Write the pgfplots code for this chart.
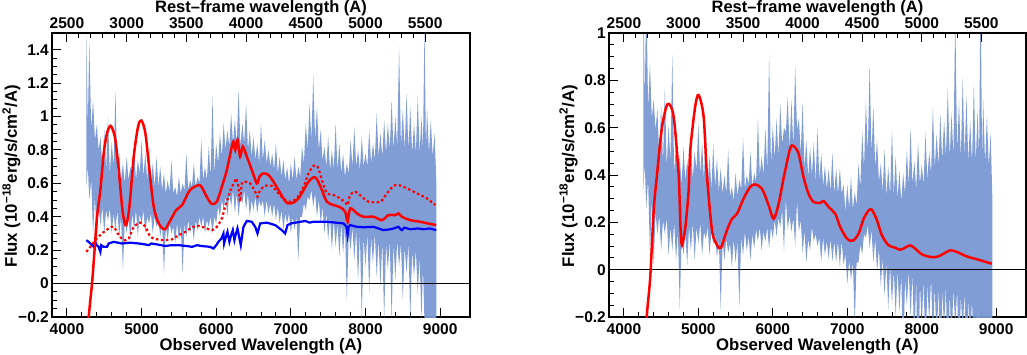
\documentclass[border=0pt]{standalone}
\usepackage{fontspec}
\setmainfont{Liberation Sans}
\usepackage{pgfplots}
\pgfplotsset{compat=1.18}
\usepgfplotslibrary{fillbetween}
\usepackage{pgfplotstable}

\definecolor{spec}{RGB}{122,152,212}

% observed spectrum: lam, upper and lower edge of the noisy flux, host continuum at lam
\pgfplotstableread{
lam hi lo h
4260 1.52 0.58 0.26
4280 0.95 0.70 0.25
4300 1.45 0.50 0.24
4325 0.92 0.62 0.24
4350 1.10 0.30 0.23
4375 0.86 0.52 0.22
4400 0.95 0.25 0.23
4425 0.80 0.45 0.21
4450 0.88 0.35 0.20
4475 0.70 0.46 0.23
4500 0.92 0.30 0.22
4525 0.68 0.44 0.23
4550 1.00 0.38 0.23
4575 0.66 0.45 0.23
4600 0.85 0.30 0.24
4625 0.70 0.42 0.24
4650 1.15 0.32 0.24
4675 0.64 0.44 0.24
4700 0.78 0.28 0.24
4725 0.62 0.40 0.24
4750 0.72 0.08 0.24
4775 0.60 0.38 0.24
4800 0.76 0.30 0.24
4825 0.62 0.40 0.24
4850 0.70 0.26 0.24
4875 0.64 0.42 0.24
4900 0.80 0.32 0.24
4925 0.62 0.44 0.24
4950 0.74 0.28 0.24
4975 0.66 0.42 0.24
5000 0.86 0.35 0.24
5025 0.64 0.44 0.24
5050 0.78 0.30 0.24
5075 0.62 0.40 0.24
5100 0.82 0.36 0.23
5125 0.60 0.42 0.24
5150 0.72 0.30 0.24
5175 0.58 0.40 0.24
5200 0.76 0.34 0.23
5225 0.58 0.38 0.23
5250 0.70 0.28 0.23
5275 0.56 0.36 0.23
5300 0.66 0.06 0.23
5325 0.54 0.34 0.22
5350 0.62 0.26 0.22
5375 0.55 0.36 0.23
5400 0.74 0.30 0.23
5425 0.54 0.34 0.23
5450 0.58 0.24 0.23
5475 0.52 0.36 0.23
5500 0.64 0.26 0.23
5525 0.54 0.35 0.23
5550 0.60 0.06 0.22
5575 0.56 0.36 0.22
5600 0.78 0.28 0.22
5625 0.56 0.38 0.22
5650 0.62 0.30 0.22
5675 0.58 0.36 0.22
5700 0.72 0.26 0.22
5725 0.58 0.38 0.23
5750 0.64 0.32 0.23
5775 0.60 0.40 0.23
5800 0.86 0.34 0.22
5825 0.62 0.40 0.22
5850 0.70 0.30 0.22
5875 0.62 0.38 0.22
5900 0.82 0.34 0.22
5925 0.64 0.40 0.22
5950 1.12 0.30 0.21
5975 0.66 0.40 0.22
6000 0.84 0.36 0.23
6025 0.72 0.46 0.25
6050 0.90 0.40 0.26
6075 0.76 0.50 0.28
6100 0.96 0.44 0.26
6125 0.80 0.52 0.27
6150 0.92 0.40 0.32
6175 0.82 0.54 0.24
6200 1.02 0.46 0.29
6225 0.84 0.56 0.33
6250 0.98 0.42 0.26
6275 0.84 0.54 0.32
6300 1.16 0.40 0.30
6325 0.82 0.52 0.23
6350 0.96 0.48 0.32
6375 0.84 0.56 0.35
6400 1.08 0.44 0.37
6425 0.80 0.54 0.375
6450 0.92 0.40 0.37
6475 0.76 0.50 0.37
6500 0.88 0.44 0.36
6525 0.74 0.52 0.34
6550 0.84 0.42 0.30
6575 0.72 0.50 0.35
6600 0.96 0.46 0.36
6625 0.74 0.50 0.365
6650 0.86 0.40 0.365
6675 0.72 0.50 0.365
6700 0.80 0.42 0.36
6725 0.70 0.48 0.36
6750 0.78 0.40 0.355
6775 0.68 0.48 0.35
6800 0.84 0.38 0.345
6825 0.66 0.46 0.34
6850 0.76 0.36 0.33
6875 0.64 0.44 0.32
6900 0.74 0.32 0.31
6925 0.62 0.42 0.30
6950 0.70 0.36 0.34
6975 0.60 0.42 0.355
7000 0.72 0.30 0.36
7025 0.62 0.40 0.36
7050 0.76 0.32 0.365
7075 0.62 0.40 0.365
7100 0.70 0.14 0.37
7125 0.64 0.40 0.37
7150 0.82 0.40 0.37
7175 0.72 0.48 0.375
7200 0.96 0.44 0.375
7225 0.80 0.52 0.37
7250 1.08 0.50 0.365
7275 0.86 0.56 0.37
7300 1.24 0.46 0.37
7325 0.86 0.54 0.37
7350 1.06 0.40 0.37
7375 0.80 0.50 0.37
7400 0.92 0.36 0.37
7425 0.74 0.46 0.37
7450 0.82 0.30 0.37
7475 0.70 0.42 0.37
7500 0.88 0.26 0.37
7525 0.68 0.40 0.37
7550 0.80 0.20 0.365
7575 0.68 0.38 0.365
7600 0.96 0.22 0.365
7625 0.68 0.36 0.365
7650 0.84 0.16 0.36
7675 0.66 0.36 0.36
7700 0.78 0.18 0.36
7725 0.64 0.34 0.355
7750 0.72 -0.10 0.31
7775 0.66 0.30 0.34
7800 0.86 0.20 0.35
7825 0.70 0.34 0.345
7850 0.94 0.14 0.34
7875 0.70 0.32 0.34
7900 0.80 0.02 0.34
7925 0.68 0.30 0.34
7950 0.88 -0.22 0.34
7975 0.70 0.28 0.337
8000 0.78 0.10 0.337
8025 0.70 0.30 0.34
8050 0.92 -0.05 0.34
8075 0.72 0.28 0.34
8100 0.84 0.12 0.34
8125 0.74 0.30 0.335
8150 1.02 0.04 0.33
8175 0.76 0.26 0.33
8200 0.90 -0.02 0.325
8225 0.76 0.26 0.32
8250 0.98 -0.22 0.32
8275 0.78 0.24 0.32
8300 0.96 0.08 0.325
8325 0.80 0.26 0.325
8350 1.10 -0.22 0.33
8375 0.80 0.24 0.33
8400 1.00 0.02 0.335
8425 0.82 0.26 0.34
8450 1.42 0.10 0.335
8475 0.82 0.24 0.325
8500 1.04 -0.10 0.325
8525 0.80 0.22 0.33
8550 1.14 0.06 0.33
8575 0.80 0.24 0.325
8600 1.06 -0.22 0.325
8625 0.78 0.20 0.325
8650 0.96 0.04 0.33
8675 0.78 0.20 0.33
8700 1.12 -0.06 0.33
8725 0.78 0.16 0.33
8750 1.00 -0.22 0.325
8770 0.80 0.10 0.325
8790 1.55 -0.22 0.325
8810 0.80 -0.22 0.325
8825 1.05 -0.22 0.33
8850 0.78 -0.22 0.33
8875 0.98 -0.22 0.33
8900 0.76 -0.22 0.325
8925 0.90 -0.22 0.32
8950 0.60 -0.22 0.32
}\spectrum

\pgfplotsset{
  rootframe/.style={
    scale only axis, width=418pt, height=284pt,
    xmin=3800, xmax=9400,
    axis line style={line width=1.1pt},
    tick align=inside,
    major tick length=9pt, minor tick length=5pt,
    tick style={black, line width=0.9pt},
    xtick={4000,5000,6000,7000,8000,9000},
    xticklabels={4000,5000,6000,7000,8000,9000},
    minor x tick num=4, minor y tick num=3,
    xtick pos=bottom, ytick pos=left,
    xticklabel style={anchor=base, inner sep=0pt, yshift=-17.5pt},
    yticklabel style={anchor=east, inner sep=0pt, xshift=-3pt},
    tick label style={font=\fontsize{15.5}{18}\selectfont\bfseries},
  },
  restframe/.style={
    scale only axis, width=418pt, height=284pt,
    xmin=2375, xmax=5875, ymin=0, ymax=1,
    axis x line*=top, axis y line=none,
    axis line style={line width=1.1pt, -},
    tick align=inside,
    major tick length=9pt, minor tick length=5pt,
    tick style={black, line width=0.9pt},
    xtick={2500,3000,3500,4000,4500,5000,5500},
    xticklabels={2500,3000,3500,4000,4500,5000,5500},
    minor x tick num=4,
    xticklabel style={anchor=base, inner sep=0pt, yshift=4.5pt},
    tick label style={font=\fontsize{15.5}{18}\selectfont\bfseries},
  },
}

\begin{document}
\begin{tikzpicture}
\tikzset{xlab/.style={font=\fontsize{16.7}{19}\selectfont\bfseries},
         tlab/.style={font=\fontsize{16.5}{19}\selectfont\bfseries},
         ylab/.style={font=\fontsize{16.8}{19}\selectfont\bfseries}}

% ---------------- left panel ----------------
\begin{axis}[rootframe, at={(0pt,0pt)},
    ymin=-0.2, ymax=1.5,
    ytick={-0.2,0,0.2,0.4,0.6,0.8,1,1.2,1.4},
    yticklabels={−0.2,0,0.2,0.4,0.6,0.8,1,1.2,1.4}]
\addplot[name path=hiA, draw=none] table[x=lam, y=hi]{\spectrum};
\addplot[name path=loA, draw=none] table[x=lam, y=lo]{\spectrum};
\addplot[spec, fill opacity=0.95] fill between[of=hiA and loA];
\addplot[black, line width=0.8pt] coordinates {(3800,0) (9400,0)};
\addplot[blue, line width=2.2pt] coordinates {
(4260,0.26) (4290,0.25) (4314,0.24) (4340,0.23) (4359,0.22) (4380,0.25)
(4400,0.23) (4425,0.22) (4448,0.19) (4460,0.23) (4490,0.22) (4537,0.22)
(4560,0.24) (4627,0.25) (4739,0.24) (4850,0.245) (4962,0.24) (5040,0.235)
(5096,0.23) (5130,0.24) (5200,0.235) (5320,0.225) (5400,0.23) (5499,0.23)
(5600,0.225) (5677,0.22) (5744,0.23) (5800,0.225) (5918,0.22) (5963,0.21)
(6000,0.23) (6030,0.25) (6070,0.27) (6097,0.30) (6106,0.24) (6130,0.28)
(6151,0.31) (6177,0.25) (6200,0.29) (6222,0.32) (6244,0.26) (6265,0.30)
(6285,0.33) (6329,0.23) (6365,0.34) (6410,0.375) (6477,0.37) (6522,0.34)
(6553,0.30) (6589,0.36) (6678,0.365) (6790,0.35) (6879,0.32) (6924,0.30)
(6955,0.35) (7000,0.36) (7080,0.366) (7192,0.375) (7250,0.365) (7304,0.37)
(7400,0.37) (7483,0.37) (7600,0.365) (7706,0.36) (7745,0.34) (7760,0.29)
(7775,0.34) (7795,0.35) (7885,0.34) (7974,0.337) (8108,0.34) (8242,0.32)
(8330,0.325) (8376,0.33) (8443,0.34) (8470,0.325) (8488,0.32) (8520,0.335)
(8600,0.325) (8700,0.33) (8779,0.325) (8860,0.33) (8948,0.32)};
\addplot[red, line width=2.2pt, dash pattern=on 2.5pt off 2.5pt, smooth] coordinates {
(4260,0.19) (4314,0.22) (4381,0.26) (4470,0.30) (4560,0.33) (4627,0.34)
(4694,0.29) (4761,0.26) (4828,0.27) (4895,0.34) (4985,0.365) (5051,0.34)
(5119,0.28) (5208,0.265) (5320,0.26) (5409,0.265) (5499,0.29) (5588,0.31)
(5677,0.337) (5766,0.345) (5873,0.33) (5940,0.32) (6008,0.34) (6075,0.39)
(6119,0.46) (6164,0.52) (6209,0.58) (6240,0.60) (6267,0.63) (6298,0.58)
(6320,0.49) (6343,0.60) (6387,0.61) (6455,0.60) (6522,0.55) (6553,0.52)
(6589,0.56) (6656,0.585) (6745,0.585) (6834,0.54) (6924,0.50) (6991,0.49)
(7080,0.51) (7170,0.58) (7237,0.66) (7304,0.705) (7357,0.70) (7416,0.62)
(7483,0.54) (7572,0.53) (7661,0.51) (7740,0.48) (7760,0.47) (7795,0.53)
(7862,0.55) (7952,0.52) (8041,0.49) (8198,0.49) (8287,0.54) (8376,0.585)
(8443,0.59) (8555,0.57) (8689,0.54) (8823,0.51) (8935,0.47)};
\addplot[red, line width=2.5pt, smooth] coordinates {
(4280,-0.35) (4292,-0.2) (4336,0.0) (4370,0.20) (4403,0.40) (4448,0.56)
(4493,0.78) (4537,0.90) (4582,0.944) (4615,0.92) (4649,0.86) (4694,0.68)
(4739,0.46) (4770,0.37) (4792,0.35) (4820,0.40) (4850,0.52) (4895,0.76)
(4953,0.94) (4998,0.976) (5051,0.90) (5105,0.68) (5163,0.46) (5230,0.36)
(5311,0.325) (5387,0.38) (5463,0.44) (5543,0.47) (5633,0.55) (5700,0.577)
(5789,0.587) (5873,0.52) (5940,0.477) (6008,0.49) (6075,0.58) (6142,0.68)
(6209,0.82) (6231,0.85) (6255,0.80) (6285,0.86) (6320,0.76) (6356,0.82)
(6410,0.76) (6477,0.68) (6544,0.60) (6580,0.64) (6633,0.66) (6700,0.65)
(6767,0.61) (6834,0.56) (6901,0.51) (6955,0.48) (7036,0.485) (7103,0.51)
(7170,0.56) (7237,0.61) (7304,0.637) (7350,0.625) (7416,0.56) (7483,0.49)
(7572,0.47) (7661,0.457) (7728,0.43) (7760,0.37) (7795,0.45) (7885,0.42)
(7974,0.40) (8108,0.40) (8220,0.38) (8309,0.41) (8399,0.41) (8443,0.42)
(8488,0.40) (8600,0.38) (8734,0.37) (8868,0.357) (8948,0.35)};
\end{axis}
\begin{axis}[restframe, at={(0pt,0pt)}]
\end{axis}
\node[xlab, anchor=base] at (209pt,-33pt) {Observed Wavelength (A)};
\node[tlab, anchor=base] at (209pt,304.5pt) {Rest–frame wavelength (A)};
\node[ylab, anchor=base, rotate=90] at (-35pt,141pt) {Flux (10\textsuperscript{−18}erg/s/cm\textsuperscript{2}/A)};

% ---------------- right panel ----------------
\begin{axis}[rootframe, at={(557pt,0pt)}, width=417pt,
    ymin=-0.2, ymax=1,
    ytick={-0.2,0,0.2,0.4,0.6,0.8,1},
    yticklabels={−0.2,0,0.2,0.4,0.6,0.8,1}]
\addplot[name path=hiB, draw=none] table[x=lam, y expr=\thisrow{hi}-\thisrow{h}]{\spectrum};
\addplot[name path=loB, draw=none] table[x=lam, y expr=\thisrow{lo}-\thisrow{h}]{\spectrum};
\addplot[spec, fill opacity=0.95] fill between[of=hiB and loB];
\addplot[black, line width=0.8pt] coordinates {(3800,0) (9400,0)};
\addplot[red, line width=2.5pt, smooth] coordinates {
(4290,-0.32) (4310,-0.186) (4354,-0.03) (4400,0.25) (4444,0.40) (4511,0.60)
(4588,0.70) (4668,0.646) (4735,0.40) (4760,0.18) (4780,0.104) (4825,0.18)
(4870,0.337) (4891,0.505) (4958,0.69) (5004,0.738) (5071,0.646) (5115,0.40)
(5183,0.167) (5250,0.104) (5303,0.093) (5384,0.167) (5451,0.215) (5518,0.236)
(5607,0.30) (5697,0.35) (5764,0.36) (5854,0.342) (5943,0.273) (6011,0.215)
(6078,0.279) (6153,0.40) (6234,0.513) (6279,0.522) (6346,0.49) (6413,0.39)
(6480,0.32) (6547,0.286) (6636,0.282) (6682,0.29) (6749,0.265) (6838,0.236)
(6905,0.18) (6995,0.131) (7050,0.122) (7084,0.124) (7152,0.152) (7219,0.215)
(7286,0.25) (7330,0.253) (7397,0.21) (7465,0.145) (7554,0.103) (7643,0.093)
(7710,0.084) (7777,0.093) (7844,0.103) (7911,0.089) (8001,0.065) (8113,0.054)
(8203,0.054) (8292,0.067) (8381,0.082) (8471,0.075) (8605,0.056) (8784,0.04)
(8941,0.025)};
\end{axis}
\begin{axis}[restframe, at={(557pt,0pt)}, width=417pt]
\end{axis}
\node[xlab, anchor=base] at (765.5pt,-33pt) {Observed Wavelength (A)};
\node[tlab, anchor=base] at (765.5pt,304.5pt) {Rest–frame wavelength (A)};
\node[ylab, anchor=base, rotate=90] at (522pt,141pt) {Flux (10\textsuperscript{−18}erg/s/cm\textsuperscript{2}/A)};

% fix the page to the reference frame
\pgfresetboundingbox
\path[use as bounding box] (-52pt,-37pt) rectangle (975pt,317pt);
\end{tikzpicture}
\end{document}
